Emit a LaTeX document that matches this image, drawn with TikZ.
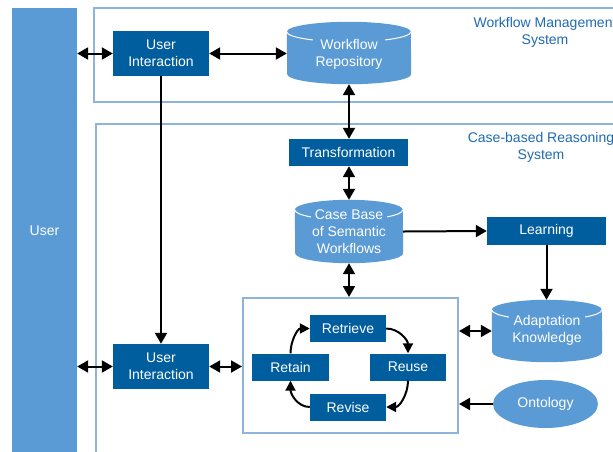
\documentclass[tikz,border=0pt]{standalone}
\usepackage{fontspec}
\setmainfont{Liberation Sans}
\usetikzlibrary{arrows.meta, shapes.geometric}

\definecolor{darkbox}{HTML}{005E9E}
\definecolor{lightcyl}{HTML}{5B9BD5}
\definecolor{frameblue}{HTML}{8FB4D9}
\definecolor{labelblue}{HTML}{1F6BB2}

% cylinder body behind a named base node: name, x radius, y radius
\newcommand\dbfill[3]{%
  \fill[lightcyl] ([yshift=-#3pt]#1.north west) arc[start angle=180, end angle=0, x radius=#2pt, y radius=#3pt]
    -- ([yshift=#3pt]#1.south east) arc[start angle=0, end angle=-180, x radius=#2pt, y radius=#3pt] -- cycle;
  \draw[white, line width=1pt] ([yshift=-#3pt]#1.north west) arc[start angle=180, end angle=360, x radius=#2pt, y radius=#3pt];
}

\begin{document}
\begin{tikzpicture}[x=1pt, y=1pt,
    every node/.style={font=\fontsize{14}{17}\selectfont, align=center, inner sep=0pt},
    procbox/.style={rectangle, fill=darkbox, text=white},
    dbbase/.style={rectangle},
    dbtext/.style={fill=lightcyl, text=white, inner sep=3pt},
    sysframe/.style={draw=frameblue, line width=2pt},
    syslabel/.style={text=labelblue},
    biarrow/.style={{Triangle[length=11pt, width=12pt]}-{Triangle[length=11pt, width=12pt]}, line width=2pt},
    onearrow/.style={-{Triangle[length=11pt, width=12pt]}, line width=2pt},
    cyclearrow/.style={-{Triangle[length=10pt, width=10pt]}, line width=2pt}]
      \clip (0,0) rectangle (613,-451);
      \fill[white] (0,0) rectangle (613,-451);

      \node[sysframe, minimum width=526, minimum height=94] (wms) at (357,-55) {};
      \node[sysframe, minimum width=524, minimum height=336] (cbr) at (358,-292) {};
      \node[sysframe, minimum width=215, minimum height=135] (cycle) at (350.5,-365.5) {};

      \node[fill=lightcyl, text=white, minimum width=65, minimum height=446] (user) at (44.5,-231) {User};

      \node[syslabel] (wmslabel) at (545,-32.5) {Workflow Management\\System};
      \node[syslabel] (cbrlabel) at (541,-147) {Case-based Reasoning\\System};

      \node[procbox, minimum width=96, minimum height=45] (uitop) at (161,-53.5) {User\\Interaction};
      \node[procbox, minimum width=96, minimum height=45] (uibot) at (161,-366.5) {User\\Interaction};
      \node[procbox, minimum width=119, minimum height=27] (transform) at (348.5,-152.5) {Transformation};
      \node[procbox, minimum width=119, minimum height=28] (learn) at (546.5,-231) {Learning};

      \node[dbbase, minimum width=124, minimum height=62] (repo) at (349,-53) {};
      \dbfill{repo}{62}{10}
      \node[dbtext] (repotext) at (349,-54) {Workflow\\Repository};

      \node[dbbase, minimum width=108, minimum height=63] (cbase) at (349,-231.5) {};
      \dbfill{cbase}{54}{10}
      \node[dbtext, inner sep=1.5pt] (cbasetext) at (349,-231.5) {Case Base\\of Semantic\\Workflows};

      \node[dbbase, minimum width=110, minimum height=62] (ak) at (547,-331) {};
      \dbfill{ak}{55}{10}
      \node[dbtext] (aktext) at (547,-330.5) {Adaptation\\Knowledge};

      \node[ellipse, fill=lightcyl, text=white, minimum width=105, minimum height=48] (onto) at (545.5,-404) {Ontology};

      \node[procbox, minimum width=76, minimum height=27] (retrieve) at (348,-328.5) {Retrieve};
      \node[procbox, minimum width=77, minimum height=27] (retain) at (290.5,-367) {Retain};
      \node[procbox, minimum width=76, minimum height=27] (reuse) at (408,-367) {Reuse};
      \node[procbox, minimum width=76, minimum height=27] (revise) at (348,-407) {Revise};

      \draw[biarrow] (uitop.west -| user.east) -- (uitop.west);
      \draw[biarrow] (uitop.east) -- (uitop.east -| repo.west);
      \draw[biarrow] (repo.south) -- (repo.south |- transform.north);
      \draw[biarrow] (transform.south -| cbase.south) -- (cbase.north);
      \draw[biarrow] (cbase.south) -- (cbase.south |- cycle.north);
      \draw[onearrow] (cbase.east) -- (learn.west);
      \draw[onearrow] (learn.south) -- (learn.south |- ak.north);
      \draw[biarrow] (cycle.east |- ak.west) -- (ak.west);
      \draw[onearrow] (onto.west) -- (onto.west -| cycle.east);
      \draw[onearrow] (uitop.south) -- (uibot.north);
      \draw[biarrow] (uibot.west -| user.east) -- (uibot.west);
      \draw[biarrow] (uibot.east) -- (uibot.east -| cycle.west);

      \draw[cyclearrow] (retrieve.east) to[out=0, in=90] (reuse.north);
      \draw[cyclearrow] (reuse.south) to[out=-90, in=0] (revise.east);
      \draw[cyclearrow] (revise.west) to[out=180, in=-90] (retain.south);
      \draw[cyclearrow] (retain.north) to[out=90, in=180] (retrieve.west);
    \end{tikzpicture}
\end{document}
